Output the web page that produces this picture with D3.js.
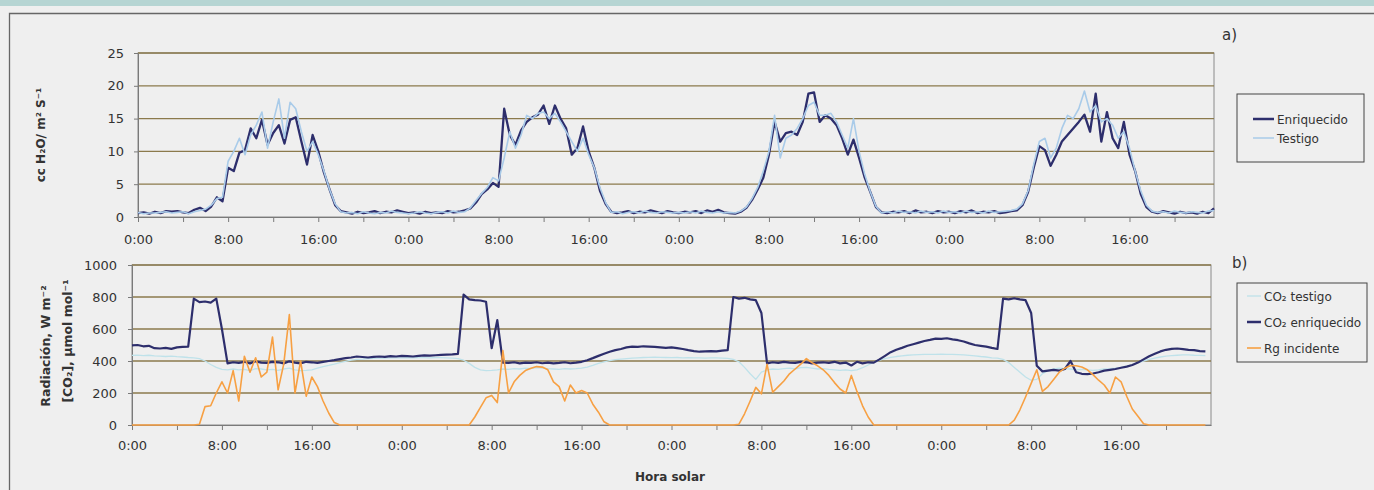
<!DOCTYPE html>
<html lang="es">
<head>
<meta charset="utf-8">
<script src="https://d3js.org/d3.v7.min.js"></script>
<style>
  body { margin: 0; background: #efefef; }
  svg text { font-family: "DejaVu Sans", Verdana, sans-serif; fill: #333; }
  .axis path, .axis line { stroke: #7a7a7a; }
</style>
</head>
<body>
<script>

// ---- data: one value every half hour, 4 days (0 .. 95.5 h) ----
var stepHours = 0.5;

// panel a) transpiration, cc H2O / m2 s
var enrH2O = [
  0.6,0.7,0.5,0.8,0.6,0.9,0.8,0.9,0.7,0.6,1.1,1.4, 0.9,1.6,3.0,2.4,7.5,7.0,9.8,10.2,13.5,12.0,14.8,11.0,
  12.8,14.0,11.2,14.8,15.2,11.5,8.0,12.5,10.0,6.8,4.2,1.8, 0.9,0.7,0.5,0.8,0.6,0.7,0.9,0.6,0.8,0.7,1.0,0.8,
  0.6,0.7,0.5,0.8,0.6,0.7,0.6,0.9,0.7,0.8,1.0,1.3, 2.2,3.5,4.2,5.2,4.6,16.5,12.5,11.0,13.2,14.5,15.2,15.6,
  17.0,14.2,17.0,15.0,13.5,9.5,10.5,13.8,10.0,7.5,4.0,2.0, 0.8,0.6,0.7,0.9,0.6,0.8,0.7,1.0,0.8,0.6,0.9,0.7,
  0.6,0.8,0.7,0.9,0.6,1.0,0.8,1.1,0.7,0.6,0.5,0.8, 1.4,2.6,4.2,6.0,9.5,14.5,11.5,12.8,13.0,12.5,14.5,18.8,
  19.0,14.5,15.5,15.0,14.0,12.0,9.5,11.8,9.0,6.0,3.8,1.5, 0.7,0.6,0.8,0.7,0.9,0.6,1.0,0.7,0.8,0.6,0.9,0.7,
  0.8,0.6,0.9,0.7,1.0,0.6,0.8,0.7,0.9,0.6,0.7,0.9, 1.0,1.8,3.8,7.5,10.8,10.2,7.8,9.5,11.5,12.5,13.5,14.5,
  15.6,13.0,18.8,11.5,16.0,12.0,10.5,14.5,9.5,7.0,3.5,1.5, 0.8,0.6,0.9,0.7,0.5,0.8,0.6,0.7,0.5,0.8,0.6,1.3
];
var testH2O = [
  0.7,0.5,0.6,0.6,0.7,0.8,0.6,0.7,0.8,0.5,0.8,1.0, 1.2,1.8,2.8,3.0,8.5,10.0,12.0,9.5,12.5,14.0,16.0,10.5,
  14.5,18.0,12.0,17.5,16.5,13.0,10.0,11.5,9.5,7.0,4.2,2.0, 0.8,0.6,0.7,0.5,0.8,0.6,0.5,0.7,0.6,0.9,0.7,0.6,
  0.5,0.6,0.8,0.6,0.5,0.7,0.8,0.6,0.9,0.7,0.8,1.4, 2.5,3.6,4.5,6.0,5.5,9.0,13.0,10.5,12.5,15.5,15.0,15.8,
  16.0,15.0,15.8,14.5,13.0,11.5,10.0,12.0,9.5,7.5,4.5,2.2, 0.7,0.8,0.5,0.7,0.8,0.6,0.9,0.7,0.6,0.8,0.7,0.6,
  0.7,0.6,0.8,0.6,0.9,0.7,0.6,0.8,0.6,0.7,0.6,0.9, 1.5,2.8,4.5,7.0,10.0,15.5,9.0,12.0,12.5,13.5,15.0,17.0,
  17.5,15.5,15.5,15.8,14.5,12.5,10.5,15.0,10.0,6.5,3.8,1.6, 0.6,0.8,0.6,0.9,0.7,0.8,0.6,0.9,0.7,0.8,0.6,0.9,
  0.7,0.8,0.6,0.9,0.7,0.8,0.6,0.9,0.7,0.8,0.9,1.0, 1.2,2.0,4.0,8.0,11.5,12.0,9.0,10.5,13.5,15.5,15.0,16.5,
  19.2,16.0,17.0,14.5,15.0,14.0,12.0,13.0,10.5,7.0,4.0,1.8, 0.9,0.7,0.8,0.6,0.9,0.7,0.6,0.8,0.7,0.6,0.9,1.0
];

// panel b) CO2 (umol/mol) and global radiation (W/m2)
var co2Testigo = [
  435,437,433,436,432,430,428,430,427,425,422,420, 415,400,378,360,348,345,350,345,348,340,352,350,
  345,348,342,350,355,345,340,342,345,355,365,372, 380,390,398,405,410,412,415,416,418,418,420,420,
  420,421,420,422,421,420,422,421,420,418,415,405, 385,360,345,340,342,345,350,348,352,350,355,352,
  358,355,352,350,348,352,350,352,355,362,372,385, 395,402,408,412,415,418,420,422,423,424,423,422,
  421,422,420,421,419,420,418,420,419,418,417,410, 395,360,320,285,330,345,350,348,352,355,350,358,
  360,355,350,352,348,345,342,345,340,345,358,375, 392,405,415,422,428,432,436,438,440,441,442,442,
  443,442,441,440,438,435,432,428,425,420,418,410, 390,360,330,300,280,285,320,340,350,355,352,350,
  345,348,345,342,345,350,352,355,360,368,378,390, 400,410,418,425,430,433,436,438,438,436,435,434
];
var co2Enriquecido = [
  498,500,492,495,480,478,482,476,485,488,490,790, 768,772,765,790,600,385,392,388,395,385,398,390,
  388,395,392,385,398,390,385,395,392,388,395,400, 405,412,418,422,428,425,422,426,428,426,430,428,
  432,430,428,432,435,433,436,438,440,442,445,815, 785,780,778,770,480,655,390,388,392,385,390,388,
  392,386,390,385,388,392,386,390,395,405,418,432, 445,458,468,475,485,490,488,492,490,488,485,482,
  485,480,475,468,462,458,460,462,460,465,468,800, 790,795,785,780,700,385,392,388,395,390,388,395,
  392,385,390,392,388,395,385,390,372,395,385,392, 390,410,432,455,470,482,495,505,515,525,532,540,
  538,542,535,530,522,510,500,495,490,482,475,790, 785,792,785,780,700,370,335,340,345,340,350,400,
  330,320,318,322,330,340,345,350,358,365,375,390, 410,430,445,460,470,476,478,474,470,468,462,460
];
var rgIncidente = [
  0,0,0,0,0,0,0,0,0,0,0,0, 5,115,120,200,270,200,340,150,430,330,420,300,
  330,550,220,380,690,200,400,180,300,240,150,75, 15,0,0,0,0,0,0,0,0,0,0,0,
  0,0,0,0,0,0,0,0,0,0,0,0, 0,50,110,170,185,140,465,200,270,310,340,355,
  365,362,345,270,240,150,250,200,215,200,130,80, 20,0,0,0,0,0,0,0,0,0,0,0,
  0,0,0,0,0,0,0,0,0,0,0,0, 5,70,150,235,195,380,205,240,275,320,350,380,
  415,390,370,345,310,265,225,200,310,210,120,50, 0,0,0,0,0,0,0,0,0,0,0,0,
  0,0,0,0,0,0,0,0,0,0,0,0, 0,30,95,175,260,345,210,240,285,330,355,372,
  370,362,345,315,280,250,200,300,270,180,100,55, 8,0,0,0,0,0,0,0,0,0,0,0
];

// axis ticks and labels
var hourTicks = d3.range(0, 93, 4);
var hourLabels = ["0:00", "8:00", "16:00"];
var yTicksA = [0, 5, 10, 15, 20, 25];
var yTicksB = [0, 200, 400, 600, 800, 1000];
var legendNamesA = ["Enriquecido", "Testigo"];
var legendNamesB = ["CO\u2082 testigo", "CO\u2082 enriquecido", "Rg incidente"];

// ---- drawing ----
var W = 1374, H = 490;
var cEnr = "#2d2e6c", cTest = "#a9cbe9", cCo2T = "#bfe2ea", cRg = "#f7a043";
var cGrid = "#8b7a4c";

var svg = d3.select("body").append("svg").attr("width", W).attr("height", H);

// page decoration: coloured strip and frame
svg.append("rect").attr("x", 0).attr("y", 0).attr("width", W).attr("height", 6).attr("fill", "#b6d5d3");
svg.append("path").attr("d", "M9.5," + H + "V13.5H" + W)
  .attr("fill", "none").attr("stroke", "#666").attr("stroke-width", 1.3);

function fmtHour(h) {
  return h % 8 === 0 ? hourLabels[(h % 24) / 8] : "";
}

function drawPanel(p) {
  var g = svg.append("g");
  var x = d3.scaleLinear().domain(p.xDomain).range([p.left, p.right]);
  var y = d3.scaleLinear().domain([p.yTicks[0], p.yTicks[p.yTicks.length - 1]]).range([p.bottom, p.top]);

  // plot area border
  g.append("rect").attr("x", p.left).attr("y", p.top)
    .attr("width", p.right - p.left).attr("height", p.bottom - p.top)
    .attr("fill", "none").attr("stroke", "#8a8a8a").attr("stroke-width", 1);

  // horizontal gridlines
  g.selectAll(".grid").data(p.yTicks.slice(1)).enter().append("line")
    .attr("x1", p.left).attr("x2", p.right)
    .attr("y1", function(d) { return y(d); }).attr("y2", function(d) { return y(d); })
    .attr("stroke", cGrid).attr("stroke-width", 1.3);

  // axes
  g.append("g").attr("class", "axis")
    .attr("transform", "translate(0," + p.bottom + ")")
    .call(d3.axisBottom(x).tickValues(hourTicks).tickFormat(fmtHour).tickSize(5).tickPadding(p.xPad).tickSizeOuter(0))
    .call(function(s) { s.selectAll("text").style("font-size", "13px").attr("fill", "#333"); });
  g.append("g").attr("class", "axis")
    .attr("transform", "translate(" + p.left + ",0)")
    .call(d3.axisLeft(y).tickValues(p.yTicks).tickFormat(d3.format("d")).tickSize(4).tickPadding(p.yPad).tickSizeOuter(0))
    .call(function(s) { s.selectAll("text").style("font-size", "13px").attr("fill", "#333"); });

  // series
  p.series.forEach(function(s) {
    var line = d3.line()
      .x(function(d, i) { return x(i * stepHours); })
      .y(function(d) { return y(d); });
    g.append("path").datum(s.values)
      .attr("d", line)
      .attr("fill", "none")
      .attr("stroke", s.color)
      .attr("stroke-width", s.width)
      .attr("stroke-linejoin", "round");
  });

  // legend
  var lg = g.append("g");
  lg.append("rect").attr("x", p.legend.x).attr("y", p.legend.y)
    .attr("width", p.legend.w).attr("height", p.legend.h)
    .attr("fill", "none").attr("stroke", "#444").attr("stroke-width", 1);
  var items = lg.selectAll(".item").data(p.legend.items).enter().append("g")
    .attr("transform", function(d, i) {
      return "translate(" + (p.legend.x + p.legend.padX) + "," + (p.legend.y + p.legend.first + i * p.legend.gap) + ")";
    });
  items.append("line").attr("x1", 0).attr("x2", p.legend.lineLen).attr("y1", 0).attr("y2", 0)
    .attr("stroke", function(d) { return d.color; })
    .attr("stroke-width", function(d) { return d.width; });
  items.append("text").attr("x", p.legend.lineLen + 3).attr("y", 4.5)
    .style("font-size", "12px")
    .text(function(d) { return d.name; });

  return g;
}

drawPanel({
  left: 138, right: 1214, top: 53, bottom: 217,
  xDomain: [0, 95.5], yTicks: yTicksA, xPad: 13, yPad: 10,
  series: [
    { values: enrH2O, color: cEnr, width: 2.3 },
    { values: testH2O, color: cTest, width: 1.6 }
  ],
  legend: {
    x: 1237, y: 94, w: 127, h: 68, padX: 16, lineLen: 21, first: 25, gap: 19,
    items: [
      { name: legendNamesA[0], color: cEnr, width: 2.5 },
      { name: legendNamesA[1], color: cTest, width: 1.5 }
    ]
  }
});

drawPanel({
  left: 132, right: 1211, top: 265, bottom: 425,
  xDomain: [0, 96], yTicks: yTicksB, xPad: 11, yPad: 11,
  series: [
    { values: co2Testigo, color: cCo2T, width: 1.3 },
    { values: co2Enriquecido, color: cEnr, width: 2.2 },
    { values: rgIncidente, color: cRg, width: 1.6 }
  ],
  legend: {
    x: 1237, y: 283, w: 130, h: 79, padX: 10, lineLen: 14, first: 13, gap: 26,
    items: [
      { name: legendNamesB[0], color: cCo2T, width: 1.3 },
      { name: legendNamesB[1], color: cEnr, width: 2.5 },
      { name: legendNamesB[2], color: cRg, width: 1.6 }
    ]
  }
});

// axis titles and panel tags
svg.append("text")
  .attr("transform", "translate(45,135) rotate(-90)")
  .attr("text-anchor", "middle").style("font-size", "12px").style("font-weight", "bold")
  .text("cc H\u2082O/ m\u00b2 S\u207b\u00b9");
svg.append("text")
  .attr("transform", "translate(50,346) rotate(-90)")
  .attr("text-anchor", "middle").style("font-size", "12.5px").style("font-weight", "bold")
  .text("Radiaci\u00f3n, W m\u207b\u00b2");
svg.append("text")
  .attr("transform", "translate(72,341) rotate(-90)")
  .attr("text-anchor", "middle").style("font-size", "12.5px").style("font-weight", "bold")
  .text("[CO\u2082], \u00b5mol mol\u207b\u00b9");
svg.append("text")
  .attr("x", 670).attr("y", 481)
  .attr("text-anchor", "middle").style("font-size", "12px").style("font-weight", "bold")
  .text("Hora solar");
svg.append("text").attr("x", 1222).attr("y", 40).style("font-size", "15px").text("a)");
svg.append("text").attr("x", 1232).attr("y", 268).style("font-size", "15px").text("b)");

</script>
</body>
</html>
